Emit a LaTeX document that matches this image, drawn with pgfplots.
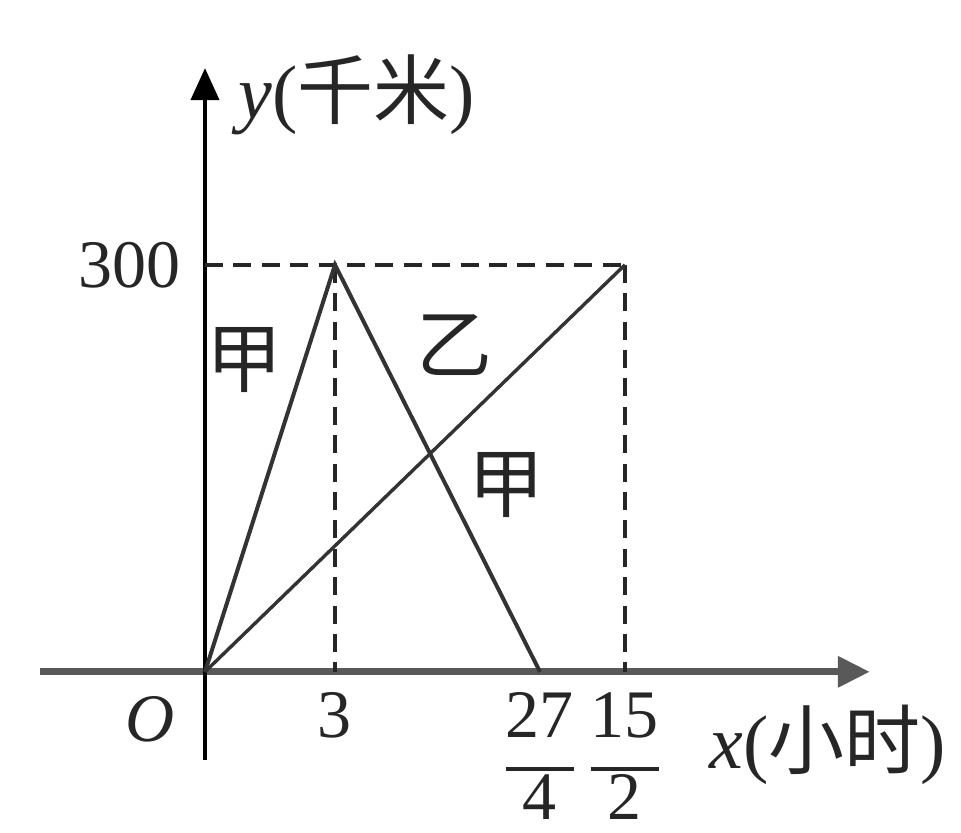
\documentclass[border=0pt]{standalone}
\usepackage{fontspec}
\setmainfont{Liberation Serif}
\newfontfamily\cjk{Noto Sans CJK SC}
\usepackage{pgfplots}
\pgfplotsset{compat=1.18}
\usetikzlibrary{arrows.meta}
\newcommand{\fr}[2]{$\nulldelimiterspace=0pt{\mbox{#1}\rule[-6.5pt]{0pt}{1pt}\above 0.9pt\mbox{#2}}$}
\begin{document}
\begin{tikzpicture}
\begin{axis}[
  x coord trafo/.code={\pgfmathparse{ifthenelse(#1<3,#1*130/3,ifthenelse(#1<6.75,130+(#1-3)*205/3.75,335+(#1-6.75)*85/0.75))}},
  x=0.25pt, y=0.3392pt,
  xmin=-3.808, xmax=9.66, ymin=-65, ymax=445,
  axis lines=middle,
  clip=false,
  x axis line style={line width=1.7pt, black!65, -{Triangle[length=8pt,width=7.5pt]}},
  y axis line style={line width=1pt, black, -{Triangle[length=8pt,width=7pt]}},
  xtick={3,6.75,7.5},
  xticklabels={3,\fr{27}{4},\fr{15}{2}},
  ytick={300},
  yticklabels={300},
  major tick length=0pt,
  ticklabel style={font=\fontsize{17}{19}\selectfont, text=black!85},
  xticklabel style={anchor=north, yshift=-4pt, inner xsep=0pt, inner ysep=1pt},
  yticklabel style={anchor=east, xshift=-2.5pt},
]
% dashed guide lines
\addplot[line width=1pt, black!85, dash pattern=on 4.5pt off 2.6pt] coordinates {(0,300) (7.5,300)};
\addplot[line width=1pt, black!85, dash pattern=on 4.5pt off 2.6pt] coordinates {(3,300) (3,0)};
\addplot[line width=1pt, black!85, dash pattern=on 4.5pt off 2.6pt] coordinates {(7.5,300) (7.5,0)};
% Jia
\addplot[line width=1pt, black!80] coordinates {(0,0) (3,300) (6.75,0)};
% Yi
\addplot[line width=0.85pt, black!80] coordinates {(0,0) (7.5,300)};
% labels
\node[font=\fontsize{19}{22}\selectfont\cjk, text=black!85] at (axis cs:0.92,230) {甲};
\node[font=\fontsize{19}{22}\selectfont\cjk, text=black!85] at (axis cs:5.195,241) {乙};
\node[font=\fontsize{19}{22}\selectfont\cjk, text=black!85] at (axis cs:6.146,138) {甲};
\node[font=\fontsize{17}{20}\selectfont\itshape, text=black!85] at (axis cs:-1.27,-35) {O};
\node[font=\fontsize{19}{22}\selectfont, text=black!85] at (axis cs:9.29,-54) {\textit{x}({\cjk 小时})};
\node[font=\fontsize{19}{22}\selectfont, text=black!85] at (axis cs:3.40,425) {\textit{y}({\cjk 千米})};
\coordinate (bl) at (axis cs:-4.731,-118.6);
\coordinate (tr) at (axis cs:10.465,495.2);
\end{axis}
\pgfresetboundingbox
\useasboundingbox (bl) rectangle (tr);
\end{tikzpicture}
\end{document}
